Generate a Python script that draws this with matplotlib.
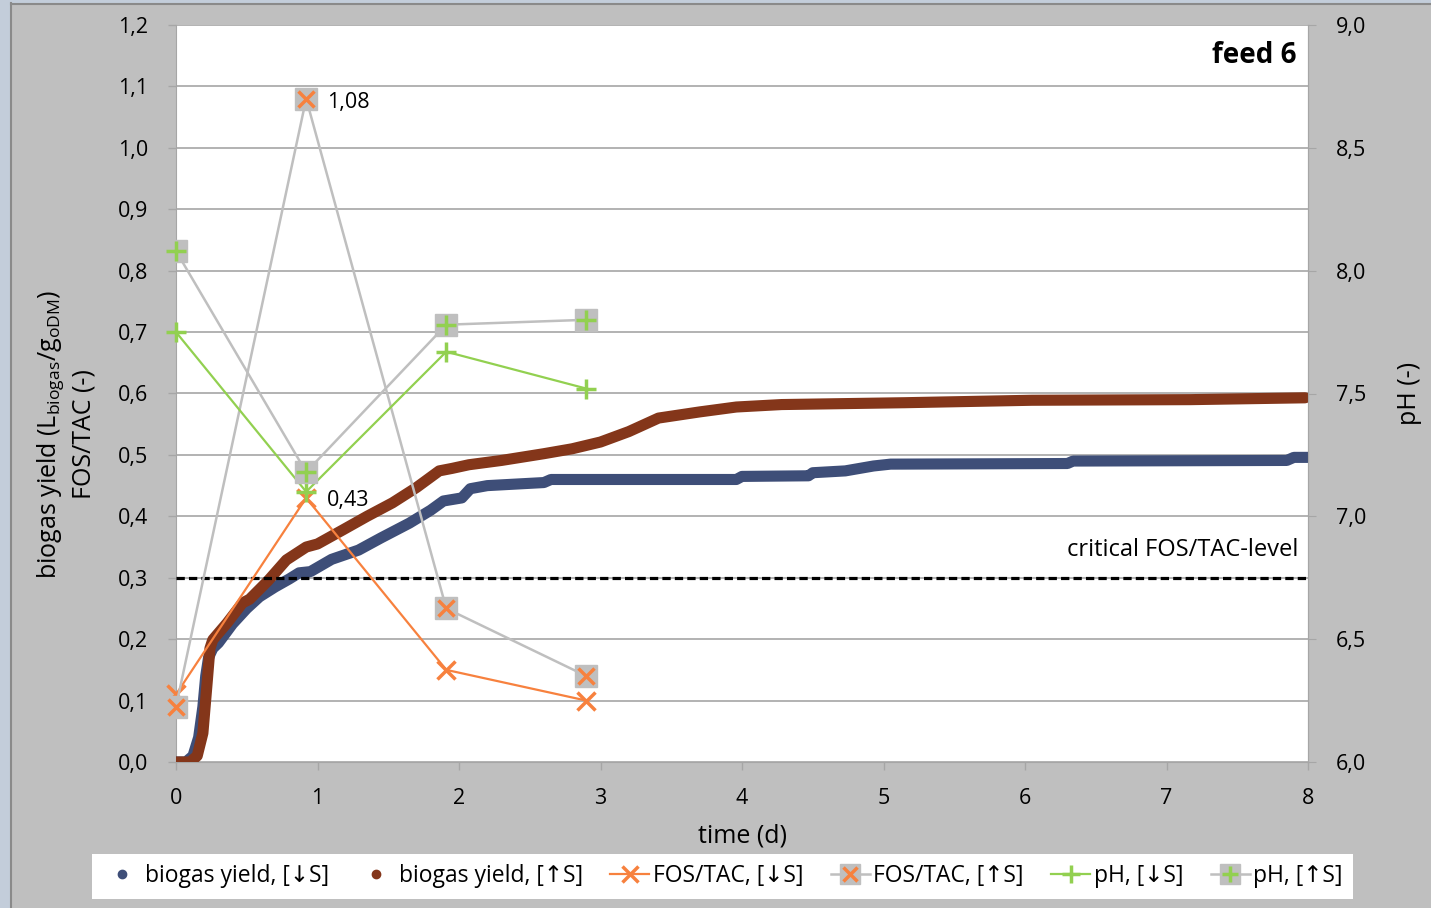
import matplotlib
matplotlib.use('Agg')
import matplotlib.pyplot as plt
from matplotlib.lines import Line2D
from matplotlib.patches import Rectangle
from matplotlib.ticker import FuncFormatter

plt.rcParams['font.family'] = ['Open Sans', 'DejaVu Sans']

# biogas yield, [↓S]
t_down = [0, 0.07, 0.12, 0.16, 0.19, 0.21, 0.23, 0.26, 0.3, 0.4, 0.5, 0.59, 0.7, 0.8,
          0.87, 0.95, 1.01, 1.1, 1.29, 1.45, 1.65, 1.8, 1.89, 2.02, 2.08, 2.2, 2.6, 2.65,
          3.96, 4.0, 4.47, 4.5, 4.73, 4.93, 5.05, 6.3, 6.34, 7.85, 7.9, 8.0]
yield_down = [0, 0, 0.01, 0.04, 0.09, 0.14, 0.17, 0.185, 0.194, 0.225, 0.25, 0.269, 0.285, 0.298,
              0.308, 0.31, 0.318, 0.33, 0.345, 0.365, 0.389, 0.41, 0.425, 0.43, 0.445, 0.45, 0.455, 0.46,
              0.46, 0.465, 0.466, 0.471, 0.474, 0.482, 0.485, 0.486, 0.49, 0.491, 0.496, 0.496]

# biogas yield, [↑S]
t_up = [0, 0.1, 0.15, 0.19, 0.22, 0.24, 0.26, 0.36, 0.47, 0.52, 0.65, 0.78, 0.92, 1.0,
        1.18, 1.35, 1.53, 1.7, 1.86, 1.95, 2.07, 2.3, 2.6, 2.8, 3.0, 3.2, 3.41, 3.7,
        3.96, 4.28, 5.15, 6.05, 7.17, 7.98]
yield_up = [0, 0, 0.01, 0.047, 0.129, 0.185, 0.199, 0.226, 0.259, 0.265, 0.295, 0.329, 0.35, 0.355,
            0.378, 0.4, 0.422, 0.447, 0.474, 0.478, 0.484, 0.491, 0.502, 0.51, 0.521, 0.538, 0.56, 0.57,
            0.578, 0.582, 0.585, 0.589, 0.59, 0.593]

# sampling days
t_samp = [0, 0.92, 1.91, 2.9]
fostac_down = [0.11, 0.43, 0.15, 0.10]
fostac_up = [0.09, 1.08, 0.25, 0.14]
ph_down = [7.75, 7.10, 7.67, 7.52]
ph_up = [8.08, 7.18, 7.78, 7.80]

critical = 0.3

blue = '#3E4E78'
brown = '#84361A'
orange = '#F7813E'
green = '#92D050'
grey = '#BFBFBF'

comma = FuncFormatter(lambda v, p: f'{v:.1f}'.replace('.', ','))

fig = plt.figure(figsize=(14.31, 9.08), dpi=100, facecolor='#BFBFBF')
# window edge and chart frame
fig.add_artist(Rectangle((0, 0), 10 / 1431, 1, transform=fig.transFigure,
                         facecolor='#C3CDDA', edgecolor='none'))
fig.add_artist(Rectangle((0, 1 - 3 / 908), 1, 3 / 908, transform=fig.transFigure,
                         facecolor='#C3CDDA', edgecolor='none'))
fig.add_artist(Line2D([10.5 / 1431, 10.5 / 1431], [0, 1 - 3 / 908], transform=fig.transFigure,
                      color='#8A8A8A', lw=1.5))
fig.add_artist(Line2D([10.5 / 1431, 1], [1 - 3.5 / 908, 1 - 3.5 / 908], transform=fig.transFigure,
                      color='#8A8A8A', lw=1.5))

ax = fig.add_axes([176 / 1431, 1 - 762 / 908, (1308 - 176) / 1431, (762 - 25) / 908])
ax.set_facecolor('white')
ax.set_xlim(0, 8)
ax.set_ylim(0, 1.2)
ax.set_yticks([i / 10 for i in range(13)])
ax.set_xticks(range(9))
ax.yaxis.set_major_formatter(comma)
ax.grid(axis='y', color='#A6A6A6', lw=1.2)
ax.set_axisbelow(True)
for s in ax.spines.values():
    s.set_color('#A6A6A6')
ax.spines['top'].set_visible(False)
ax.tick_params(axis='both', direction='out', length=6, color='#A6A6A6', labelsize=15.5, width=1)
ax.tick_params(axis='x', pad=13)
ax.tick_params(axis='y', pad=14)

ax.plot(t_down, yield_down, color=blue, lw=8, solid_capstyle='round', solid_joinstyle='round', zorder=3)
ax.plot(t_up, yield_up, color=brown, lw=8, solid_capstyle='round', solid_joinstyle='round', zorder=3)

ax.axhline(critical, color='black', lw=2.3, ls=(0, (2.6, 1.3)), zorder=3)

ax.plot(t_samp, fostac_down, color=orange, lw=1.6, marker='x', ms=13, mew=2.5, zorder=4, clip_on=False)
ax.plot(t_samp, fostac_up, color=grey, lw=1.8, marker='s', ms=16, mfc=grey, mec=grey, zorder=4,
        clip_on=False)
ax.plot(t_samp, fostac_up, ls='none', marker='x', ms=11, mew=2.5, color=orange, zorder=4, clip_on=False)

ax.annotate('1,08', (t_samp[1], fostac_up[1]), xytext=(15, -2.5), textcoords='offset points',
            va='center', ha='left', fontsize=15.5)
ax.annotate('0,43', (t_samp[1], fostac_down[1]), xytext=(15, -2), textcoords='offset points',
            va='center', ha='left', fontsize=15.5)

ax.text(7.92, 1.15, 'feed 6', ha='right', va='center', fontsize=20, fontweight='bold')
ax.text(7.93, 0.345, 'critical FOS/TAC-level', ha='right', va='center', fontsize=17)

ax.set_xlabel('time (d)', fontsize=18, labelpad=10)
fig.text(0.046, 0.522,
         'biogas yield (L$_\\mathregular{biogas}$/g$_\\mathregular{oDM}$)\nFOS/TAC (-)',
         rotation=90, ha='center', va='center', multialignment='center', fontsize=18,
         linespacing=1.25)

ax2 = ax.twinx()
ax2.set_ylim(6, 9)
ax2.set_yticks([6 + i * 0.5 for i in range(7)])
ax2.yaxis.set_major_formatter(comma)
for s in ax2.spines.values():
    s.set_visible(False)
ax2.spines['right'].set_visible(True)
ax2.spines['right'].set_color('#A6A6A6')
ax2.tick_params(axis='y', direction='out', length=6, color='#A6A6A6', labelsize=15.5, pad=14)
ax2.set_ylabel('pH (-)', fontsize=18, labelpad=22)

ax2.plot(t_samp, ph_down, color=green, lw=1.6, marker='+', ms=15, mew=2.5, zorder=4, clip_on=False)
ax2.plot(t_samp, ph_up, color=grey, lw=1.8, marker='s', ms=16, mfc=grey, mec=grey, zorder=4,
         clip_on=False)
ax2.plot(t_samp, ph_up, ls='none', marker='+', ms=14, mew=2.5, color=green, zorder=4, clip_on=False)

handles = [
    Line2D([], [], ls='none', marker='o', ms=6, color=blue),
    Line2D([], [], ls='none', marker='o', ms=6, color=brown),
    Line2D([], [], color=orange, lw=1.6, marker='x', ms=11, mew=2.5),
    (Line2D([], [], color=grey, lw=1.8, marker='s', ms=14, mfc=grey, mec=grey),
     Line2D([], [], ls='none', marker='x', ms=10, mew=2.5, color=orange)),
    Line2D([], [], color=green, lw=1.6, marker='+', ms=13, mew=2.5),
    (Line2D([], [], color=grey, lw=1.8, marker='s', ms=14, mfc=grey, mec=grey),
     Line2D([], [], ls='none', marker='+', ms=12, mew=2.5, color=green)),
]
labels = ['biogas yield, [↓S]', 'biogas yield, [↑S]', 'FOS/TAC, [↓S]',
          'FOS/TAC, [↑S]', 'pH, [↓S]', 'pH, [↑S]']
leg = fig.legend(handles, labels, loc='center', ncol=6,
                 bbox_to_anchor=((83 + 1362) / 2 / 1431, 1 - 876.5 / 908),
                 fontsize=16.5, frameon=True, fancybox=False, framealpha=1,
                 facecolor='white', edgecolor='white', handlelength=1.7,
                 handletextpad=0.15, columnspacing=1.2, borderpad=0.45, borderaxespad=0)
leg.get_frame().set_linewidth(0)

fig.savefig('out.png', dpi=100, facecolor=fig.get_facecolor())
